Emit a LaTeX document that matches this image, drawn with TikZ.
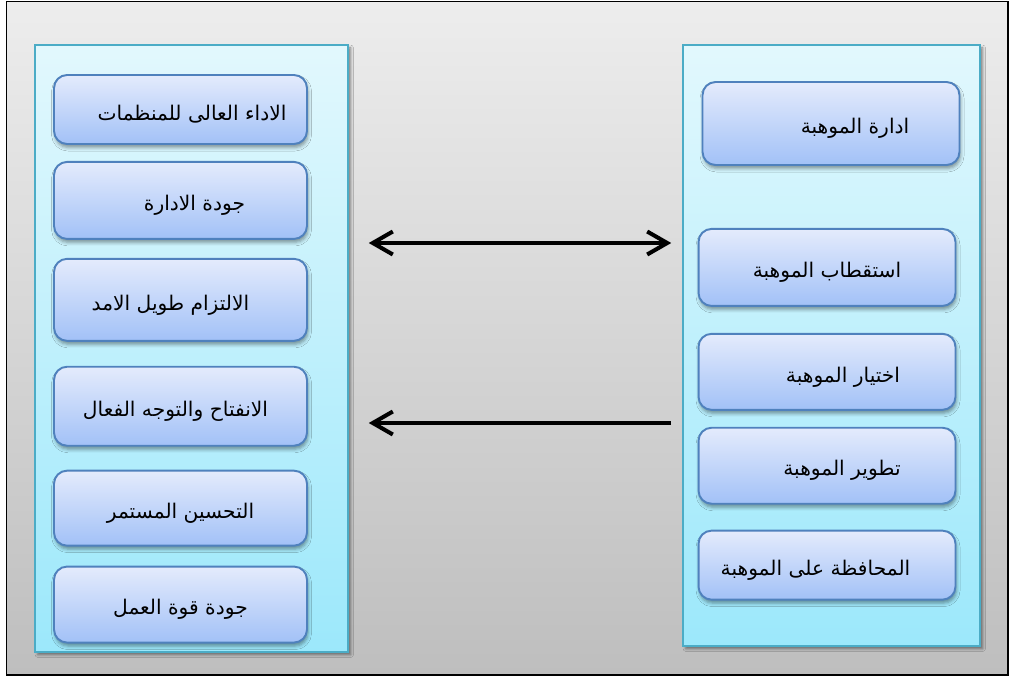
\documentclass[tikz,border=0pt]{standalone}
\usepackage{fontspec}
\usepackage{tikz}
\usetikzlibrary{arrows.meta, positioning, shadows.blur}
\TeXXeTstate=1
\newfontfamily\arabicfont[Script=Arabic]{DejaVu Sans}
\newcommand{\artext}[2][0pt]{\hspace*{#1}\raisebox{-0.1cm}[\height][\depth]{\arabicfont\beginR #2\endR}}
\definecolor{frametop}{RGB}{237,237,237}
\definecolor{framebot}{RGB}{190,190,190}
\definecolor{paneltop}{RGB}{226,248,253}
\definecolor{panelbot}{RGB}{156,232,251}
\definecolor{panelline}{RGB}{75,172,198}
\definecolor{itemtop}{RGB}{228,235,252}
\definecolor{itembot}{RGB}{162,193,247}
\definecolor{itemline}{RGB}{79,129,189}
\tikzstyle{frame} = [rectangle, draw=black, line width=0.9pt, top color=frametop,
  bottom color=framebot, minimum width=20.03cm, minimum height=13.47cm]
\tikzstyle{panel} = [rectangle, draw=panelline, line width=0.9pt, top color=paneltop,
  bottom color=panelbot, blur shadow={shadow xshift=1.6pt, shadow yshift=-1.6pt,
  shadow blur radius=1.5pt, shadow opacity=45}]
\tikzstyle{item} = [rectangle, draw=itemline, line width=1.1pt, rounded corners=0.26cm,
  top color=itemtop, bottom color=itembot, inner sep=0pt,
  font=\fontsize{11.5}{13}\selectfont, blur shadow={shadow xshift=0.6pt,
  shadow yshift=-2pt, shadow blur radius=2pt, shadow opacity=40}]
\tikzstyle{lbox} = [item, minimum width=5.06cm]
\tikzstyle{rbox} = [item, minimum width=5.14cm]
\tikzstyle{link} = [draw, line width=2.3pt, color=black,
  arrows={-Straight Barb[length=4mm,width=4.6mm]}]

\begin{document}
\begin{tikzpicture}[x=0.02cm, y=-0.02cm]
    \useasboundingbox (0,0) rectangle (1011,679);
    \node [frame] (bg) at (507.25,338.25) {};

    \node [panel, minimum width=6.26cm, minimum height=12.14cm] (lpanel) at (191.5,348.5) {};
    \node [panel, minimum width=5.94cm, minimum height=12.02cm] (rpanel) at (831.5,345.5) {};

    % left column
    \node [lbox, minimum height=1.38cm] (perf) at (180.5,109.5) {\artext[0.46cm]{الاداء العالى للمنظمات}};
    \node [lbox, minimum height=1.54cm, below=0.32cm of perf] (mgmt) {\artext[0.56cm]{جودة الادارة}};
    \node [lbox, minimum height=1.64cm, below=0.36cm of mgmt] (commit) {\artext[-0.4cm]{الالتزام طويل الامد}};
    \node [lbox, minimum height=1.58cm, below=0.48cm of commit] (open) {\artext[-0.2cm]{الانفتاح والتوجه الفعال}};
    \node [lbox, minimum height=1.50cm, below=0.46cm of open] (improve) {\artext{التحسين المستمر}};
    \node [lbox, minimum height=1.52cm, below=0.38cm of improve] (work) {\artext{جودة قوة العمل}};

    % right column
    \node [rbox, minimum height=1.66cm] (talent) at (831,123.5) {\artext[0.96cm]{ادارة الموهبة}};
    \node [rbox, minimum height=1.54cm, below=1.24cm of talent, xshift=-0.08cm] (attract) {\artext{استقطاب الموهبة}};
    \node [rbox, minimum height=1.52cm, below=0.52cm of attract] (select) {\artext[0.64cm]{اختيار الموهبة}};
    \node [rbox, minimum height=1.52cm, below=0.32cm of select] (develop) {\artext[0.6cm]{تطوير الموهبة}};
    \node [rbox, minimum height=1.38cm, below=0.50cm of develop] (retain) {\artext[-0.46cm]{المحافظة على الموهبة}};

    \path [link, arrows={Straight Barb[length=4mm,width=4.6mm]-Straight Barb[length=4mm,width=4.6mm]},
      shorten <=0.4cm, shorten >=0.22cm] (lpanel.east |- 0,243) -- (rpanel.west |- 0,243);
    \path [link, shorten <=0.22cm, shorten >=0.4cm] (rpanel.west |- 0,423) -- (lpanel.east |- 0,423);

\end{tikzpicture}
\end{document}
